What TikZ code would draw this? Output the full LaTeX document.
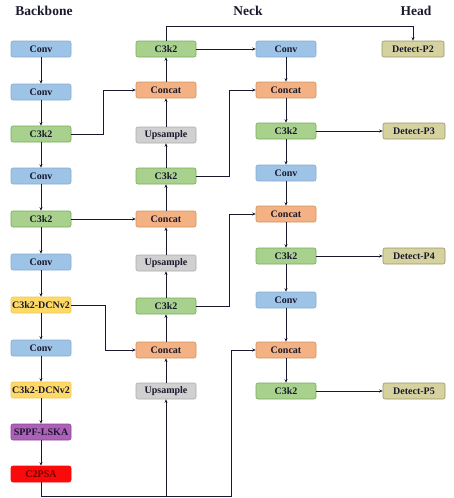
\documentclass[tikz,border=0pt]{standalone}
\usepackage{fontspec}
\setmainfont{Liberation Serif}
\usepackage{tikz}
\usepackage{xcolor}
\usetikzlibrary{arrows.meta,positioning,calc}
\definecolor{convfill}{RGB}{157,195,230}
\definecolor{convline}{RGB}{135,172,208}
\definecolor{cfill}{RGB}{169,209,142}
\definecolor{cline}{RGB}{118,170,88}
\definecolor{catfill}{RGB}{244,177,131}
\definecolor{catline}{RGB}{205,150,95}
\definecolor{upfill}{RGB}{208,208,208}
\definecolor{upline}{RGB}{172,172,172}
\definecolor{dcnfill}{RGB}{255,217,102}
\definecolor{dcnline}{RGB}{238,200,90}
\definecolor{sppffill}{RGB}{172,96,184}
\definecolor{sppfline}{RGB}{140,70,150}
\definecolor{psafill}{RGB}{250,10,10}
\definecolor{psatext}{RGB}{110,0,0}
\definecolor{detfill}{RGB}{214,210,160}
\definecolor{detline}{RGB}{150,150,100}
\definecolor{ink}{RGB}{25,25,45}

\begin{document}
\begin{tikzpicture}[x=1pt, y=-1pt, line width=0.8pt,
  blk/.style={draw, rounded corners=2pt, minimum width=60pt, minimum height=16pt,
    inner xsep=0pt, font=\fontsize{10}{11}\selectfont\bfseries, text=ink, line width=0.6pt},
  conv/.style={blk, fill=convfill, draw=convline},
  csblk/.style={blk, fill=cfill, draw=cline},
  cat/.style={blk, fill=catfill, draw=catline},
  up/.style={blk, fill=upfill, draw=upline},
  dcn/.style={blk, fill=dcnfill, draw=dcnline},
  sppf/.style={blk, fill=sppffill, draw=sppfline},
  psa/.style={blk, fill=psafill, draw=psafill, text=psatext},
  det/.style={blk, fill=detfill, draw=detline, minimum width=62pt},
  arr/.style={-{Stealth[length=3.5pt,width=3pt]}, draw=ink},
  ttl/.style={font=\fontsize{13.5}{14}\selectfont\bfseries, text=ink}]
\useasboundingbox (0,0) rectangle (453,498);
% titles
\node[ttl] (tb) at (44,11) {Backbone};
\node[ttl] (tn) at (248,11) {Neck};
\node[ttl] (th) at (416,11) {Head};
% backbone
\node[conv] (b1) at (41,49) {Conv};
\node[conv] (b2) at (41,92) {Conv};
\node[csblk] (b3) at (41,134) {C3k2};
\node[conv] (b4) at (41,176) {Conv};
\node[csblk] (b5) at (41,219) {C3k2};
\node[conv] (b6) at (41,262) {Conv};
\node[dcn] (b7) at (41,305) {C3k2-DCNv2};
\node[conv] (b8) at (41,348) {Conv};
\node[dcn] (b9) at (41,390) {C3k2-DCNv2};
\node[sppf] (b10) at (41,432) {SPPF-LSKA};
\node[psa] (b11) at (41,474) {C2PSA};
% neck, upward column
\node[csblk] (n1) at (166,49) {C3k2};
\node[cat] (n2) at (166,90) {Concat};
\node[up] (n3) at (166,135) {Upsample};
\node[csblk] (n4) at (166,176) {C3k2};
\node[cat] (n5) at (166,219) {Concat};
\node[up] (n6) at (166,263) {Upsample};
\node[csblk] (n7) at (166,306) {C3k2};
\node[cat] (n8) at (166,350) {Concat};
\node[up] (n9) at (166,391) {Upsample};
% neck, downward column
\node[conv] (m1) at (286,49) {Conv};
\node[cat] (m2) at (286,90) {Concat};
\node[csblk] (m3) at (286,131) {C3k2};
\node[conv] (m4) at (286,173) {Conv};
\node[cat] (m5) at (286,214) {Concat};
\node[csblk] (m6) at (286,256) {C3k2};
\node[conv] (m7) at (286,300) {Conv};
\node[cat] (m8) at (286,350) {Concat};
\node[csblk] (m9) at (286,391) {C3k2};
% head
\node[det] (h2) at (413,49) {Detect-P2};
\node[det] (h3) at (414,131) {Detect-P3};
\node[det] (h4) at (414,256) {Detect-P4};
\node[det] (h5) at (414,391) {Detect-P5};
\coordinate (c2) at (231,496);
% backbone chain
\foreach \a/\b in {b1/b2,b2/b3,b3/b4,b4/b5,b5/b6,b6/b7,b7/b8,b8/b9,b9/b10,b10/b11}
  \draw[arr] (\a) -- (\b);
% upward chain
\foreach \a/\b in {n9/n8,n8/n7,n7/n6,n6/n5,n5/n4,n4/n3,n3/n2,n2/n1}
  \draw[arr] (\a) -- (\b);
% downward chain
\foreach \a/\b in {m1/m2,m2/m3,m3/m4,m4/m5,m5/m6,m6/m7,m7/m8,m8/m9}
  \draw[arr] (\a) -- (\b);
% lateral links
\draw[arr] (b3.east) -- ++(32,0) |- (n2.west);
\draw[arr] (b5.east) -- (n5.west);
\draw[arr] (b7.east) -- ++(34,0) |- (n8.west);
\draw[arr] (b11.south) |- (c2) |- (m8.west);
\draw[arr] (n9.south |- c2) -- (n9.south);
\draw[arr] (n1.east) -- (m1.west);
\draw[arr] (n1.north) -- ++(0,-14) -| (h2.north);
\draw[arr] (n4.east) -- ++(33,0) |- (m2.west);
\draw[arr] (n7.east) -- ++(33,0) |- (m5.west);
\draw[arr] (m3.east) -- (h3.west);
\draw[arr] (m6.east) -- (h4.west);
\draw[arr] (m9.east) -- (h5.west);
\end{tikzpicture}
\end{document}
